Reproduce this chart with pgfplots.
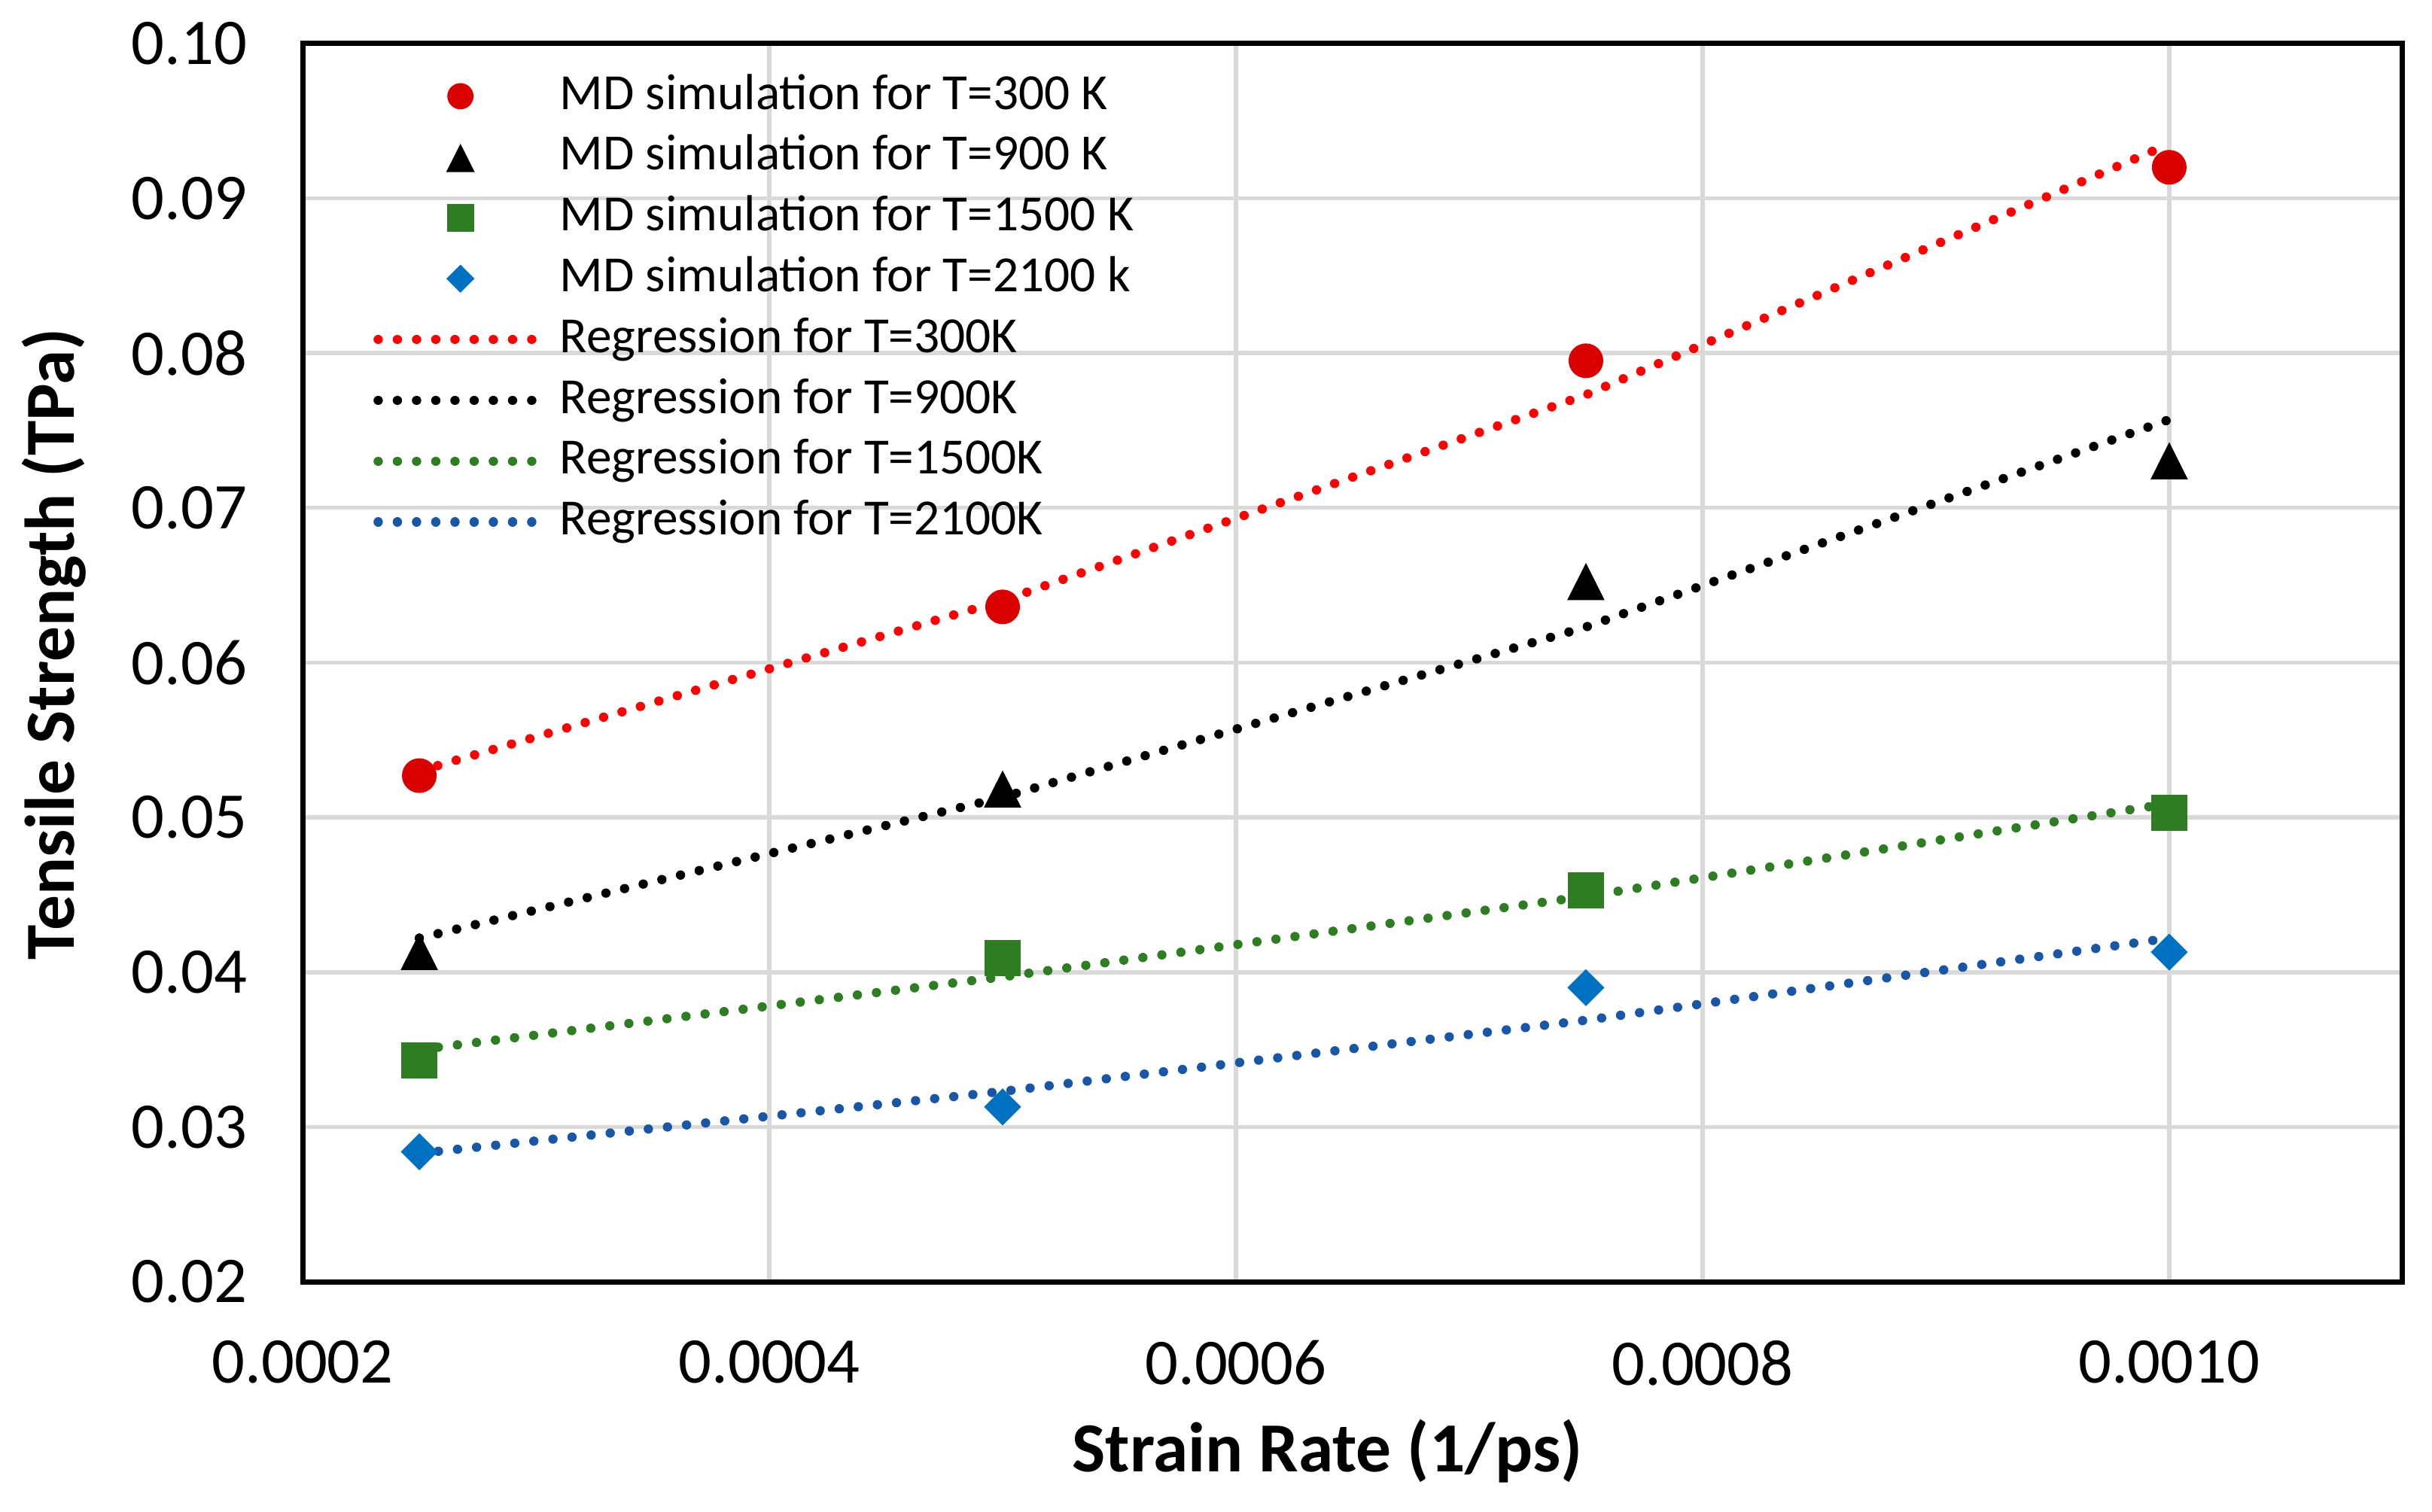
\documentclass[border=0pt]{standalone}
\usepackage{fontspec}
\setmainfont{Carlito}
\usepackage{pgfplots}
\pgfplotsset{compat=1.18}
\definecolor{mred}{HTML}{DA0000}
\definecolor{lred}{HTML}{FF0000}
\definecolor{mgreen}{HTML}{2E7D23}
\definecolor{mblue}{HTML}{0070C0}
\definecolor{lblue}{HTML}{1A56A6}
\definecolor{gridc}{HTML}{D9D9D9}
\begin{document}
\begin{tikzpicture}
\begin{axis}[
  scale only axis,
  width=405.9pt, height=239.4pt,
  xmin=0.0002, xmax=0.0011,
  ymin=0.02, ymax=0.10,
  xtick={0.0002,0.0004,0.0006,0.0008,0.0010},
  ytick={0.02,0.03,0.04,0.05,0.06,0.07,0.08,0.09,0.10},
  scaled x ticks=false, scaled y ticks=false,
  /pgf/number format/assume math mode=true,
  xticklabel style={/pgf/number format/.cd, fixed, fixed zerofill, precision=4, /tikz/.cd, font=\fontsize{12.6}{15}\selectfont, yshift=-7.8pt},
  yticklabel style={/pgf/number format/.cd, fixed, fixed zerofill, precision=2, /tikz/.cd, font=\fontsize{12.6}{15}\selectfont, xshift=-7.2pt},
  major tick length=0pt,
  grid=major,
  major grid style={draw=gridc, line width=0.8pt},
  axis line style={line width=1pt, black},
  xlabel={\bfseries Strain Rate (1/ps)},
  ylabel={\bfseries Tensile Strength (TPa)},
  xlabel style={font=\fontsize{13.6}{16}\selectfont, at={(axis description cs:0.488,-0.137)}, anchor=center},
  ylabel style={font=\fontsize{13.6}{16}\selectfont, at={(axis description cs:-0.1183,0.515)}, anchor=center},
  legend cell align=left,
  legend image code/.code={\draw[mark repeat=2,mark phase=2,#1,every mark/.append style={scale=0.74}] plot coordinates {(0pt,0pt) (15.9pt,0pt) (31.8pt,0pt)};},
  legend style={draw=none, fill=none, at={(axis description cs:0,1)}, anchor=north west,
    xshift=13.5pt, yshift=-5.5pt, inner sep=0pt,
    font=\fontsize{9.8}{11}\selectfont, row sep=2.76pt,
    nodes={inner sep=0pt, text height=7pt, text depth=2pt},
    /tikz/every odd column/.style={column sep=2.4pt}},
  regline/.style={line width=1.8pt, line cap=round, dash pattern=on 0.01pt off 3.7pt, no marks},
]
\addplot[only marks, mark=*, mark size=3.15pt, mark options={fill=mred, draw=mred}]
  coordinates {(0.00025,0.0527) (0.0005,0.0636) (0.00075,0.0795) (0.001,0.0920)};
\addlegendentry{MD simulation for T=300 K}
\addplot[only marks, mark=triangle*, mark size=3.8pt, mark options={fill=black, draw=black, yshift=-1.1pt, yscale=1.15}]
  coordinates {(0.00025,0.0413) (0.0005,0.0518) (0.00075,0.0652) (0.001,0.0730)};
\addlegendentry{MD simulation for T=900 K}
\addplot[only marks, mark=square*, mark size=3.3pt, mark options={fill=mgreen, draw=mgreen}]
  coordinates {(0.00025,0.0343) (0.0005,0.0409) (0.00075,0.0453) (0.001,0.0503)};
\addlegendentry{MD simulation for T=1500 K}
\addplot[only marks, mark=square*, mark size=2.33pt, mark options={fill=mblue, draw=mblue, rotate=45}]
  coordinates {(0.00025,0.0284) (0.0005,0.0313) (0.00075,0.0390) (0.001,0.0413)};
\addlegendentry{MD simulation for T=2100 k}
\addplot[regline, color=lred]
  coordinates {(0.00025,0.0530) (0.0005,0.0640) (0.00075,0.0773) (0.001,0.0935)};
\addlegendentry{Regression for T=300K}
\addplot[regline, color=black]
  coordinates {(0.00025,0.0422) (0.0005,0.0513) (0.00075,0.0623) (0.001,0.0757)};
\addlegendentry{Regression for T=900K}
\addplot[regline, color=mgreen]
  coordinates {(0.00025,0.0350) (0.0005,0.0397) (0.00075,0.0449) (0.001,0.0509)};
\addlegendentry{Regression for T=1500K}
\addplot[regline, color=lblue]
  coordinates {(0.00025,0.0283) (0.0005,0.0323) (0.00075,0.0369) (0.001,0.0422)};
\addlegendentry{Regression for T=2100K}
\end{axis}
\pgfresetboundingbox
\path (current axis.south west) ++(-58.5pt,-44.4pt) coordinate (bbA);
\path (current axis.north east) ++(5.7pt,8.4pt) coordinate (bbB);
\path[use as bounding box] (bbA) rectangle (bbB);
\end{tikzpicture}
\end{document}
